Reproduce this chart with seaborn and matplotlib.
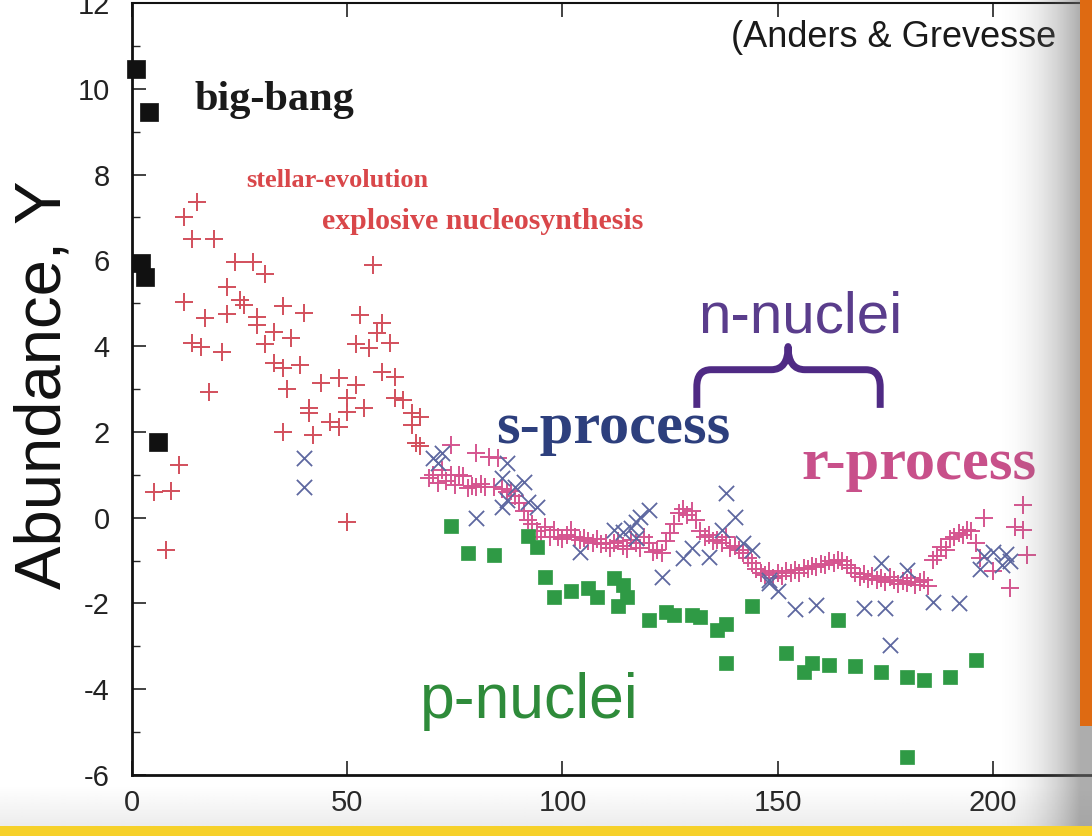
import numpy as np
import pandas as pd
import matplotlib
matplotlib.use("Agg")
import matplotlib.pyplot as plt
from matplotlib.path import Path
from matplotlib.patches import PathPatch, Rectangle
import seaborn as sns

# ---- solar abundances vs. mass number (log scale, Anders & Grevesse 1989) ----
bigbang_A = [1, 2, 3, 4, 6]
bigbang_Y = [10.45, 5.93, 5.60, 9.45, 1.77]

stellar_A = [5, 9, 8, 11, 12, 12, 14, 14, 15, 16, 17, 18, 19, 21, 22, 22, 24, 25, 26, 28,
             29, 29, 31, 31, 33, 33, 35, 35, 35, 36, 37, 39, 40, 41, 41, 42, 44, 46, 48, 48,
             50, 50, 50, 52, 52, 53, 54, 55, 56, 57, 58, 58, 60, 61, 61, 63, 65, 65, 66, 67, 67]
stellar_Y = [0.60, 0.62, -0.75, 1.23, 7.00, 5.03, 6.50, 4.08, 7.37, 3.99, 4.66, 2.94, 6.50, 3.87,
             5.38, 4.76, 5.97, 5.08, 4.96, 5.97, 4.69, 4.50, 4.06, 5.69, 3.61, 4.34, 3.50, 4.94,
             2.00, 3.00, 4.20, 3.57, 4.78, 2.56, 2.45, 1.93, 3.14, 2.24, 3.26, 2.12, 2.80, -0.10,
             2.47, 4.06, 3.10, 4.73, 2.56, 3.96, 5.90, 4.31, 4.54, 3.40, 4.08, 3.29, 2.80, 2.75,
             2.17, 2.45, 1.75, 2.35, 1.66]

rproc_A = [69, 70, 71, 72, 73, 74, 74, 75, 76, 77, 78, 79, 80, 80, 81, 82, 83, 84, 85, 86,
           87, 88, 89, 90, 91, 92, 93, 94, 95, 96, 97, 98, 99, 100, 101, 102, 103, 104, 105, 106,
           107, 108, 109, 110, 111, 112, 113, 114, 115, 116, 117, 118, 119, 120, 121, 122, 123, 124, 125, 126,
           127, 128, 129, 130, 131, 132, 133, 134, 135, 136, 137, 138, 139, 140, 141, 142, 143, 144, 145, 146,
           147, 148, 149, 150, 151, 152, 153, 154, 155, 156, 157, 158, 159, 160, 161, 162, 163, 164, 165, 166,
           167, 168, 169, 170, 171, 172, 173, 174, 175, 176, 177, 178, 179, 180, 181, 182, 183, 184, 185, 186,
           187, 188, 189, 190, 191, 192, 193, 194, 195, 196, 197, 198, 200, 204, 205, 207, 207, 208]
rproc_Y = [0.93, 1.00, 0.80, 1.10, 0.85, 1.70, 1.00, 0.77, 1.00, 0.96, 0.70, 0.75, 1.51, 0.72, 0.78, 0.72, 1.42, 0.72, 1.40, 0.68,
           0.60, 0.62, 0.50, 0.35, 0.15, -0.05, -0.15, -0.30, -0.44, -0.21, -0.45, -0.28, -0.44, -0.50, -0.40, -0.28, -0.45, -0.52, -0.48, -0.55,
           -0.60, -0.50, -0.62, -0.58, -0.70, -0.60, -0.55, -0.65, -0.72, -0.52, -0.60, -0.70, -0.45, -0.60, -0.80, -0.75, -0.82, -0.55, -0.35, -0.15,
           0.12, 0.20, 0.07, 0.15, -0.05, -0.30, -0.45, -0.40, -0.55, -0.51, -0.60, -0.45, -0.70, -0.65, -0.75, -0.82, -0.95, -1.05, -1.20, -1.28,
           -1.33, -1.25, -1.40, -1.30, -1.35, -1.25, -1.30, -1.22, -1.28, -1.18, -1.20, -1.12, -1.15, -1.08, -1.10, -1.02, -1.05, -0.98, -1.00, -1.10,
           -1.18, -1.30, -1.38, -1.32, -1.42, -1.35, -1.45, -1.40, -1.50, -1.38, -1.45, -1.55, -1.48, -1.52, -1.40, -1.58, -1.50, -1.45, -1.60, -0.98,
           -0.90, -0.68, -0.75, -0.50, -0.45, -0.35, -0.40, -0.28, -0.30, -0.58, -0.95, 0.00, -1.25, -1.63, -0.21, -0.28, 0.30, -0.86]

sproc_A = [40, 40, 70, 71, 72, 80, 86, 87, 89, 91, 86, 87, 92, 94, 104, 112, 114, 116, 117, 118,
           120, 117, 123, 128, 130, 134, 138, 140, 137, 142, 144, 148, 148, 150, 154, 159, 170, 174, 175, 176,
           180, 186, 192, 197, 198, 200, 202, 203, 204]
sproc_Y = [1.40, 0.72, 1.40, 1.28, 1.51, 0.00, 0.93, 1.28, 0.72, 0.84, 0.26, 0.42, 0.37, 0.26, -0.79, -0.28, -0.33, -0.23, -0.09, 0.02,
           0.19, -0.47, -1.38, -0.93, -0.70, -0.91, 0.58, 0.02, -0.28, -0.58, -0.75, -1.52, -1.45, -1.72, -2.14, -2.03, -2.10, -1.05, -2.10, -2.96,
           -1.21, -1.96, -1.98, -1.20, -0.90, -0.80, -1.10, -0.85, -1.00]

pnuc_A = [74, 78, 84, 92, 94, 96, 98, 102, 106, 108, 112, 113, 114, 115, 120, 124, 126, 130, 132, 136,
          138, 138, 144, 152, 156, 158, 162, 164, 168, 174, 180, 180, 184, 190, 196]
pnuc_Y = [-0.20, -0.82, -0.86, -0.43, -0.68, -1.38, -1.85, -1.72, -1.65, -1.84, -1.40, -2.07, -1.56, -1.84, -2.38, -2.21, -2.26, -2.26, -2.31, -2.61,
          -2.49, -3.38, -2.07, -3.15, -3.61, -3.38, -3.43, -2.38, -3.47, -3.59, -5.57, -3.71, -3.78, -3.71, -3.31]

y_ticks = [-6, -4, -2, 0, 2, 4, 6, 8, 10, 12]
x_ticks = [0, 50, 100, 150, 200]

# ---------------------------------------------------------------------------
sns.set_theme(style="ticks")
plt.rcParams["font.family"] = ["Liberation Sans", "DejaVu Sans"]
plt.rcParams["axes.unicode_minus"] = False

W, H = 1092, 836
fig = plt.figure(figsize=(W / 100, H / 100), dpi=100)
fig.patch.set_facecolor("white")
ax = fig.add_axes([132 / W, 61 / H, 960 / W, 772 / H])
ax.set_facecolor("white")

c_stellar = "#d24f5c"
c_r = "#d5558f"
c_s = "#5e68a0"
c_p = "#2f9a45"

sns.scatterplot(x=stellar_A, y=stellar_Y, marker="+", s=150, color=c_stellar,
                linewidth=1.4, ax=ax, zorder=3)
sns.scatterplot(x=rproc_A, y=rproc_Y, marker="+", s=150, color=c_r,
                linewidth=1.4, ax=ax, zorder=3)
sns.scatterplot(x=sproc_A, y=sproc_Y, marker="x", s=120, color=c_s,
                linewidth=1.3, ax=ax, zorder=4)
sns.scatterplot(x=pnuc_A, y=pnuc_Y, marker="s", s=100, color=c_p,
                edgecolor=c_p, linewidth=0.5, ax=ax, zorder=5)
sns.scatterplot(x=bigbang_A, y=bigbang_Y, marker="s", s=150, color="#111111",
                edgecolor="#111111", linewidth=0.5, ax=ax, zorder=5, clip_on=False)

ax.set_xlim(0, 223)
ax.set_ylim(-6, 12)
ax.set_xticks(x_ticks)
ax.set_yticks(y_ticks)
ax.set_yticks(np.arange(-5, 12, 2), minor=True)
ax.tick_params(axis="both", which="major", direction="in", length=10, width=1.2,
               labelsize=21, top=True, right=False, colors="#222222")
ax.tick_params(axis="y", which="major", pad=16)
ax.tick_params(axis="x", which="major", pad=10)
ax.tick_params(axis="y", which="minor", direction="in", length=6, width=1.0, right=False)
for side in ("left", "bottom", "top"):
    ax.spines[side].set_linewidth(2.0)
    ax.spines[side].set_color("#111111")
ax.spines["top"].set_linewidth(1.5)
ax.spines["right"].set_visible(False)
ax.set_xlabel("")
ax.set_ylabel("")

fig.text(44 / W, 1 - 385 / H, "Abundance, Y", rotation=90, ha="center", va="center",
         fontsize=47, color="#111111")

serif = ["Liberation Serif", "DejaVu Serif"]
ax.text(14.6, 9.51, "big-bang", fontsize=30.5, fontweight="bold", family=serif,
        color="#1a1a1a", va="baseline")
ax.text(26.5, 7.72, "stellar-evolution", fontsize=19, fontweight="bold", family=serif,
        color="#d9474a", va="baseline")
ax.text(44.2, 6.74, "explosive nucleosynthesis", fontsize=21.5, fontweight="bold", family=serif,
        color="#d9474a", va="baseline")
ax.text(84.5, 1.75, "s-process", fontsize=43.5, fontweight="bold", family=serif,
        color="#2d3f7d", va="baseline")
ax.text(155.6, 0.89, "r-process", fontsize=43.5, fontweight="bold", family=serif,
        color="#c8508a", va="baseline")
ax.text(131.6, 4.31, "n-nuclei", fontsize=42, color="#5a3d8c", va="baseline")
ax.text(67.0, -4.66, "p-nuclei", fontsize=45, color="#2e8b3a", va="baseline")
ax.text(139.1, 10.98, "(Anders & Grevesse", fontsize=26, color="#1a1a1a",
        va="baseline", clip_on=False)

# curly brace over the s- and r-process region
xl, xm, xr = 131.2, 152.4, 173.8
yb, yh, yt = 2.56, 3.45, 3.99
verts = [(xl, yb), (xl, 3.05), (xl, yh), (134.5, yh), (148.5, yh),
         (xm, yh), (xm, yt), (xm, yh), (156.3, yh), (170.5, yh),
         (xr, yh), (xr, 3.05), (xr, yb)]
codes = [Path.MOVETO, Path.LINETO, Path.CURVE3, Path.CURVE3, Path.LINETO,
         Path.CURVE3, Path.CURVE3, Path.CURVE3, Path.CURVE3, Path.LINETO,
         Path.CURVE3, Path.CURVE3, Path.LINETO]
ax.add_patch(PathPatch(Path(verts, codes), facecolor="none", edgecolor="#4f2a84",
                       linewidth=5, capstyle="butt", joinstyle="round", zorder=6))

# slide frame: side shadow, orange bar, bottom band
sh = fig.add_axes([995 / W, 0, 97 / W, 1], zorder=20)
ramp = np.linspace(0, 1, 200)
alpha = np.clip(ramp / 0.88, 0, 1) ** 2 * 0.58
img = np.zeros((2, 200, 4))
img[..., 0:3] = 0.45
img[..., 3] = alpha
sh.imshow(img, aspect="auto", extent=[0, 1, 0, 1])
sh.set_axis_off()

fig.patches.append(Rectangle((1080 / W, 110 / H), 12 / W, 726 / H, transform=fig.transFigure,
                             facecolor="#de6a12", edgecolor="none", zorder=30))
bottom = fig.add_axes([0, 10 / H, 1, 40 / H], zorder=19)
vimg = np.zeros((100, 2, 4))
vimg[..., 0:3] = 0.6
vimg[..., 3] = np.linspace(0.18, 0.0, 100)[:, None]
bottom.imshow(vimg, aspect="auto", extent=[0, 1, 0, 1], origin="lower")
bottom.set_axis_off()
fig.patches.append(Rectangle((0, 0), 1, 10 / H, transform=fig.transFigure,
                             facecolor="#f6d12a", edgecolor="none", zorder=31))

fig.savefig("out.png", dpi=100)
